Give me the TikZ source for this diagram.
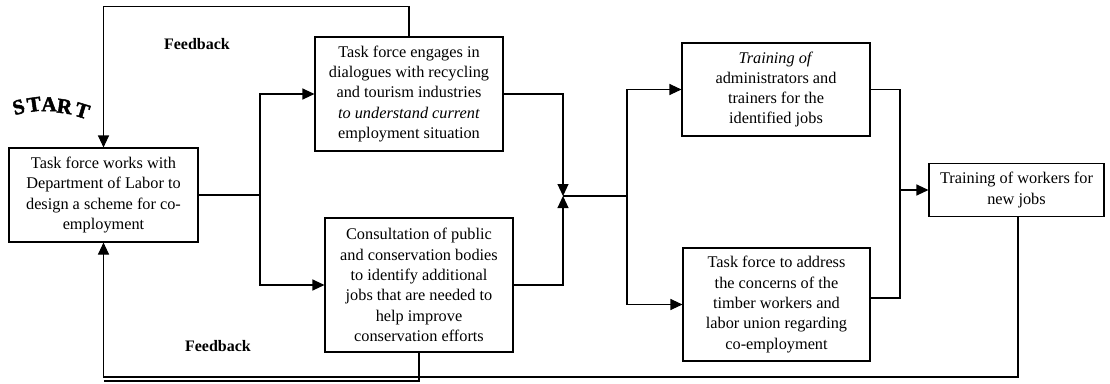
\documentclass[tikz,border=0pt]{standalone}
\usepackage{fontspec}
\setmainfont{Liberation Serif}
\newfontfamily\heavyfont[FakeBold=2.2]{Liberation Serif Bold}
\usetikzlibrary{arrows.meta}

% one letter of the arched START label
\newcommand{\archletter}[3]{\raisebox{#2pt}{\rotatebox{#1}{#3}}}

\begin{document}
\begin{tikzpicture}[x=1pt,y=-1pt,
  box/.style={draw,line width=1.1pt,align=center,inner sep=0pt,
    font=\fontsize{16.3}{20.3}\selectfont},
  link/.style={line width=1.1pt},
  arr/.style={link,-{Triangle[length=12pt,width=11pt]}},
  fb/.style={font=\fontsize{16}{18}\selectfont\bfseries}]
\useasboundingbox (0,0) rectangle (1110,383);

% process boxes
\node[box,minimum width=189pt,minimum height=94pt] (design) at (103.5,195)
  {Task force works with\\Department of Labor to\\design a scheme for co-\\employment};
\node[box,minimum width=188pt,minimum height=114pt] (dialog) at (409,94)
  {Task force engages in\\dialogues with recycling\\and tourism industries\\\textit{to understand current}\\employment situation};
\node[box,minimum width=188pt,minimum height=134pt] (consult) at (419,285)
  {Consultation of public\\and conservation bodies\\to identify additional\\jobs that are needed to\\help improve\\conservation efforts};
\node[box,minimum width=188pt,minimum height=93pt] (admin) at (776,89.5)
  {\textit{Training of}\\administrators and\\trainers for the\\identified jobs};
\node[box,minimum width=187pt,minimum height=113pt] (concern) at (776.5,304.5)
  {Task force to address\\the concerns of the\\timber workers and\\labor union regarding\\co-employment};
\node[box,minimum width=175pt,minimum height=53pt] (workers) at (1016.5,190)
  {Training of workers for\\new jobs};

% junction points
\coordinate (split1) at (260,195);
\coordinate (merge) at (563,196);
\coordinate (split2) at (627,196);
\coordinate (join) at (900,190);
\coordinate (loopL) at (103.5,377);
\coordinate (loopC) at (103.5,381);

% forward flow
\draw[link] (design.east) -- (split1);
\draw[arr] (split1) |- (dialog.west);
\draw[arr] (split1) |- (consult.west);
\draw[arr] (dialog.east) -| (merge);
\draw[arr] (consult.east) -| (merge);
\draw[link] (merge) -- (split2);
\draw[arr] (split2) |- (admin.west);
\draw[arr] (split2) |- (concern.west);
\draw[link] (admin.east) -| (join);
\draw[link] ([yshift=6.5pt]concern.east) -| (join);
\draw[arr] (join) -- (join -| workers.west);

% feedback loops
\draw[arr] (dialog.north) -- ++(0,-30) -| (design.north);
\draw[arr] ([xshift=1.5pt]workers.south) |- (loopL) -- (design.south);
\draw[link] (consult.south) |- (loopC);

% labels
\node[fb] (fbtop) at (197,44) {Feedback};
\node[fb] (fbbot) at (218,346) {Feedback};
\node[inner sep=0pt,font=\fontsize{21}{21}\heavyfont] (start) at (51,108)
  {\archletter{16}{0}{S}\archletter{8}{3}{T}\kern-0.5pt\archletter{0}{4}{A}\kern-0.5pt\archletter{-8}{3}{R}\kern0.5pt\archletter{-17}{0}{T}};
\end{tikzpicture}
\end{document}
